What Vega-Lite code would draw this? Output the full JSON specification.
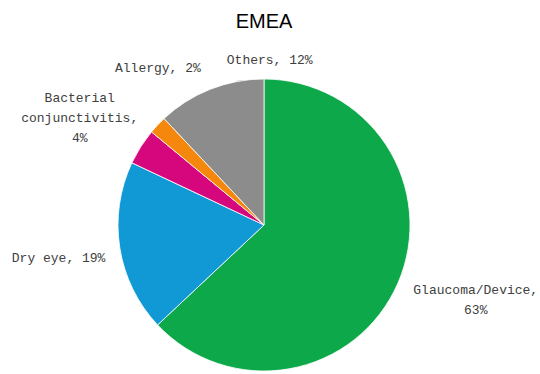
{
  "$schema": "https://vega.github.io/schema/vega-lite/v6.json",
  "width": 528,
  "height": 290,
  "autosize": "none",
  "padding": {"top": 80, "left": 0, "right": 12, "bottom": 4},
  "background": "white",
  "title": {"text": "EMEA", "fontSize": 20, "font": "Liberation Sans", "fontWeight": "normal", "color": "#000", "anchor": "middle", "offset": 0, "dy": 26},
  "data": {"values": [
    {"cat": "Glaucoma/Device", "label": ["Glaucoma/Device,", "63%"], "value": 63, "rank": 1},
    {"cat": "Dry eye", "label": "Dry eye, 19%", "value": 19, "rank": 2},
    {"cat": "Bacterial conjunctivitis", "label": ["Bacterial", "conjunctivitis,", "4%"], "value": 4, "rank": 3},
    {"cat": "Allergy", "label": "Allergy, 2%", "value": 2, "rank": 4},
    {"cat": "Others", "label": "Others, 12%", "value": 12, "rank": 5}
  ]},
  "encoding": {
    "theta": {"field": "value", "type": "quantitative", "stack": true},
    "order": {"field": "rank", "type": "quantitative"}
  },
  "layer": [
    {
      "mark": {"type": "arc", "outerRadius": 146, "stroke": "white", "strokeWidth": 0.8},
      "encoding": {
        "color": {"field": "cat", "type": "nominal", "legend": null,
          "scale": {"domain": ["Glaucoma/Device", "Dry eye", "Bacterial conjunctivitis", "Allergy", "Others"],
                    "range": ["#0DA849", "#1199D6", "#D6077D", "#F5870C", "#8C8C8C"]}}
      }
    },
    {
      "mark": {"type": "text", "radius": 210, "font": "Liberation Mono", "fontSize": 13, "color": "#404040", "align": "center", "baseline": "middle", "dx": 19, "dy": -18, "lineHeight": 20},
      "encoding": {"detail": {"field": "cat"}, "text": {"condition": {"test": "datum.rank === 1", "field": "label"}, "value": ""}}
    },
    {
      "mark": {"type": "text", "radius": 210, "font": "Liberation Mono", "fontSize": 13, "color": "#404040", "align": "center", "baseline": "middle", "dx": 2, "dy": 0},
      "encoding": {"detail": {"field": "cat"}, "text": {"condition": {"test": "datum.rank === 2", "field": "label"}, "value": ""}}
    },
    {
      "mark": {"type": "text", "radius": 210, "font": "Liberation Mono", "fontSize": 13, "color": "#404040", "align": "center", "baseline": "middle", "dx": -7, "dy": -14, "lineHeight": 20},
      "encoding": {"detail": {"field": "cat"}, "text": {"condition": {"test": "datum.rank === 3", "field": "label"}, "value": ""}}
    },
    {
      "mark": {"type": "text", "radius": 210, "font": "Liberation Mono", "fontSize": 13, "color": "#404040", "align": "center", "baseline": "middle", "dx": 47, "dy": -13},
      "encoding": {"detail": {"field": "cat"}, "text": {"condition": {"test": "datum.rank === 4", "field": "label"}, "value": ""}}
    },
    {
      "mark": {"type": "text", "radius": 210, "font": "Liberation Mono", "fontSize": 13, "color": "#404040", "align": "center", "baseline": "middle", "dx": 83, "dy": 30},
      "encoding": {"detail": {"field": "cat"}, "text": {"condition": {"test": "datum.rank === 5", "field": "label"}, "value": ""}}
    }
  ]
}
